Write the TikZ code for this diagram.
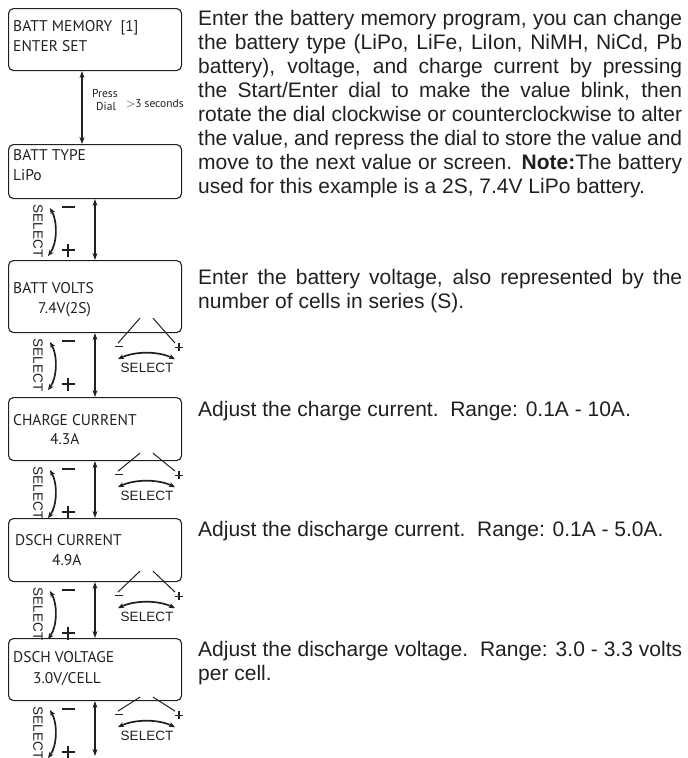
\documentclass[tikz,border=0pt]{standalone}
\usepackage{fontspec}
\setmainfont{Liberation Sans}
\newfontfamily\lcdfont{PT Sans}
\usetikzlibrary{arrows.meta}
\definecolor{ink}{RGB}{35,31,32}
\tikzset{
  lcd/.style={draw=ink, line width=1.1pt, rounded corners=5pt, minimum width=173pt, anchor=north west, inner sep=0pt},
  lcdtxt/.style={anchor=base west, inner sep=0pt, text=ink, font=\lcdfont\fontsize{15.5}{18}\selectfont},
  smalltxt/.style={anchor=base west, inner sep=0pt, text=ink, font=\lcdfont\fontsize{11.5}{12}\selectfont},
  desc/.style={anchor=base west, inner sep=0pt, text=ink, font=\fontsize{21}{24}\selectfont},
  dbl/.style={draw=ink, line width=1.1pt, {Stealth[length=7pt,width=5pt]}-{Stealth[length=7pt,width=5pt]}},
  selarc/.style={draw=ink, line width=1.7pt, {Stealth[length=6pt,width=5pt]}-{Stealth[length=6pt,width=5pt]}},
  seltxt/.style={inner sep=0pt, text=ink, font=\fontsize{13.5}{14}\selectfont},
  pmbig/.style={draw=ink, line width=2.2pt},
  pmsmall/.style={draw=ink, line width=1.2pt},
  vline/.style={draw=ink, line width=1pt},
}
\newcommand\leftselect[2]{%
  \begin{scope}[shift={(0,0 |- #1.south)}]
    \node[seltxt, rotate=-90] (ls#2) at (38,32) {SELECT};
    \draw[selarc] (50,9) .. controls (57.5,22) and (57.5,44) .. (48,57);
    \draw[pmbig] (62,8) -- (75,8);
    \draw[pmbig] (61.5,51) -- (74.5,51);
    \draw[pmbig] (68,44.5) -- (68,57.5);
  \end{scope}}
\newcommand\rightselect[3]{%
  \begin{scope}[shift={(0,0 |- #1.south)}]
    \draw[vline] (140,-#3) -- (118,10);
    \draw[vline] (153,-#3) -- (175,10);
    \draw[pmsmall] (115,13) -- (123,13);
    \draw[pmsmall] (175,14) -- (183,14);
    \draw[pmsmall] (179,10) -- (179,18);
    \draw[selarc] (118,26) .. controls (135,18) and (158,18) .. (175,26);
    \node[seltxt] (rs#2) at (147,35) {SELECT};
  \end{scope}}
\begin{document}
\begin{tikzpicture}[x=1pt,y=-1pt]
\useasboundingbox (0,0) rectangle (688,758);

% LCD boxes
\node[lcd, minimum height=62pt] (b1) at (8,8) {};
\node[lcd, minimum height=54pt] (b2) at (8,144) {};
\node[lcd, minimum height=72pt] (b3) at (8,260) {};
\node[lcd, minimum height=63pt] (b4) at (8,397) {};
\node[lcd, minimum height=63pt] (b5) at (8,518) {};
\node[lcd, minimum height=62pt] (b6) at (8,638) {};

% box texts
\node[lcdtxt] (t1a) at (13,31) {BATT MEMORY\ \ [1]};
\node[lcdtxt] (t1b) at (13,51) {ENTER SET};
\node[lcdtxt] (t2a) at (13,160) {BATT TYPE};
\node[lcdtxt] (t2b) at (13,180) {LiPo};
\node[lcdtxt] (t3a) at (13,293) {BATT VOLTS};
\node[lcdtxt] (t3b) at (38,313) {7.4V(2S)};
\node[lcdtxt] (t4a) at (13,425) {CHARGE CURRENT};
\node[lcdtxt] (t4b) at (50,444) {4.3A};
\node[lcdtxt] (t5a) at (15,545) {DSCH CURRENT};
\node[lcdtxt] (t5b) at (52,565) {4.9A};
\node[lcdtxt] (t6a) at (13,662) {DSCH VOLTAGE};
\node[lcdtxt] (t6b) at (33,683) {3.0V/CELL};

% vertical double arrows
\draw[dbl] ([xshift=74pt]b1.south west) -- ([xshift=74pt]b2.north west);
\draw[dbl] ([xshift=87pt]b2.south west) -- ([xshift=87pt]b3.north west);
\draw[dbl] ([xshift=87pt]b3.south west) -- ([xshift=87pt]b4.north west);
\draw[dbl] ([xshift=87pt]b4.south west) -- ([xshift=87pt]b5.north west);
\draw[dbl] ([xshift=87pt]b5.south west) -- ([xshift=87pt]b6.north west);
\coordinate (endpt) at (95,756);
\draw[dbl] ([xshift=87pt]b6.south west) -- (endpt);

% press dial label
\node[smalltxt] (press) at (92,97) {Press};
\node[smalltxt] (dial) at (96,110) {Dial};
\node[smalltxt] (secs) at (126,107) {$>$3 seconds};

% select groups
\leftselect{b2}{2}
\leftselect{b3}{3}
\leftselect{b4}{4}
\leftselect{b5}{5}
\leftselect{b6}{6}
\rightselect{b3}{3}{15}
\rightselect{b4}{4}{8}
\rightselect{b5}{5}{11}
\rightselect{b6}{6}{4}

% descriptions
\node[desc] (p1a) at (198,25) {\makebox[484pt][s]{Enter the battery memory program, you can change}};
\node[desc] (p1b) at (198,49) {\makebox[484pt][s]{the battery type (LiPo, LiFe, LiIon, NiMH, NiCd, Pb}};
\node[desc] (p1c) at (198,73) {\makebox[484pt][s]{battery), voltage, and charge current by pressing}};
\node[desc] (p1d) at (198,97) {\makebox[484pt][s]{the Start/Enter dial to make the value blink, then}};
\node[desc] (p1e) at (198,121) {\makebox[484pt][s]{rotate the dial clockwise or counterclockwise to alter}};
\node[desc] (p1f) at (198,145) {\makebox[484pt][s]{the value, and repress the dial to store the value and}};
\node[desc] (p1g) at (198,169) {\makebox[484pt][s]{move to the next value or screen. \textbf{Note:}The battery}};
\node[desc] (p1h) at (198,193) {used for this example is a 2S, 7.4V LiPo battery.};
\node[desc] (p2a) at (198,284) {\makebox[484pt][s]{Enter the battery voltage, also represented by the}};
\node[desc] (p2b) at (198,308) {number of cells in series (S).};
\node[desc] (p3) at (198,416) {Adjust the charge current.\ \ Range: 0.1A - 10A.};
\node[desc] (p4) at (198,536) {Adjust the discharge current.\ \ Range: 0.1A - 5.0A.};
\node[desc] (p5a) at (198,656) {\makebox[484pt][s]{Adjust the discharge voltage.\ \ Range: 3.0 - 3.3 volts}};
\node[desc] (p5b) at (198,680) {per cell.};
\end{tikzpicture}
\end{document}
